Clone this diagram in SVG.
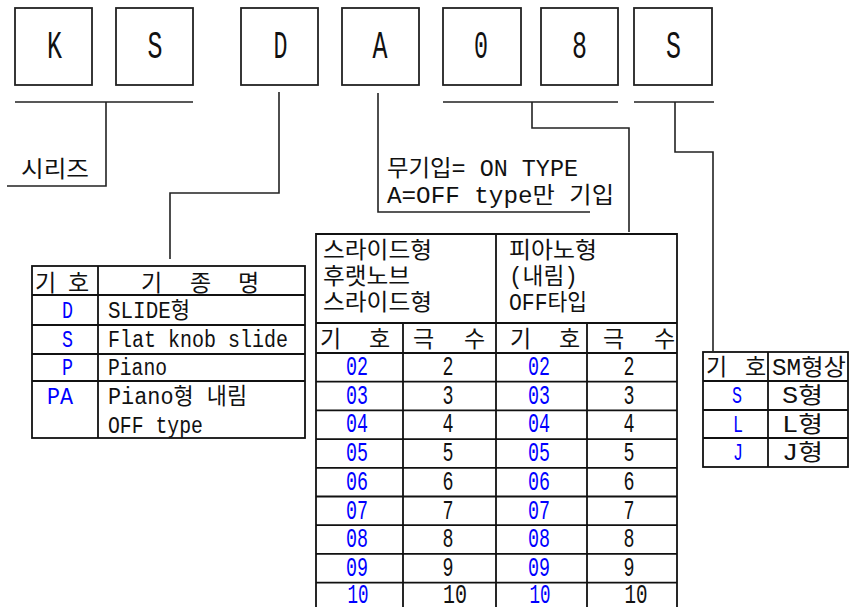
<svg xmlns="http://www.w3.org/2000/svg" width="850" height="607" viewBox="0 0 850 607">
<style>
.bx{fill:#fff;stroke:#222;stroke-width:1.8}
.ln{fill:none;stroke:#222;stroke-width:1.6}
.tb{fill:none;stroke:#111;stroke-width:1.8}
text{font-family:"Liberation Mono","Noto Sans CJK KR",monospace;font-size:23px;fill:#111}
text.big{font-size:38px;text-anchor:middle}
.d text{font-size:27px}
text.b{fill:#0000ff}
text.m{text-anchor:middle}
</style>
<rect width="850" height="607" fill="#fff"/>
<g id="box-K"><rect class="bx" x="15" y="8" width="77" height="77"/><text class="big" x="54.5" y="58" textLength="15" lengthAdjust="spacingAndGlyphs">K</text></g>
<g id="box-S1"><rect class="bx" x="116" y="8" width="77" height="77"/><text class="big" x="155" y="58" textLength="15" lengthAdjust="spacingAndGlyphs">S</text></g>
<g id="box-D"><rect class="bx" x="241" y="8" width="77" height="77"/><text class="big" x="280.5" y="58" textLength="14" lengthAdjust="spacingAndGlyphs">D</text></g>
<g id="box-A"><rect class="bx" x="342" y="8" width="77" height="77"/><text class="big" x="380" y="58" textLength="15" lengthAdjust="spacingAndGlyphs">A</text></g>
<g id="box-0"><rect class="bx" x="443" y="8" width="78" height="77"/><text class="big" x="481" y="58" textLength="14" lengthAdjust="spacingAndGlyphs">0</text></g>
<g id="box-8"><rect class="bx" x="541" y="8" width="77" height="77"/><text class="big" x="579.5" y="58" textLength="15" lengthAdjust="spacingAndGlyphs">8</text></g>
<g id="box-S2"><rect class="bx" x="634" y="8" width="78" height="77"/><text class="big" x="673.5" y="58" textLength="15" lengthAdjust="spacingAndGlyphs">S</text></g>

<g id="connectors">
<path class="ln" d="M15 102H193M106 102V186H7"/>
<path class="ln" d="M279 92V193H170V259"/>
<path class="ln" d="M378 93V212H590"/>
<path class="ln" d="M443 102H618M532 102V128H629V232"/>
<path class="ln" d="M634 102H714M675 102V152H713V351"/>
</g>

<g id="label-series"><text x="21" y="177" textLength="68" lengthAdjust="spacingAndGlyphs">시리즈</text></g>

<g id="note-type">
<text x="387" y="176" textLength="191" lengthAdjust="spacingAndGlyphs">무기입= ON TYPE</text>
<text x="387" y="203" textLength="227" lengthAdjust="spacingAndGlyphs">A=OFF type만 기입</text>
</g>

<g id="table-kind">
<rect class="tb" x="32" y="266" width="273" height="172"/>
<path class="tb" d="M98 266V438M32 295H305M32 325H305M32 354H305M32 381H305"/>
<text x="35" y="291">기</text><text x="68" y="291">호</text>
<text x="141" y="291">기</text><text x="190" y="291">종</text><text x="238" y="291">명</text>
<text class="b" x="62" y="318" textLength="11" lengthAdjust="spacingAndGlyphs">D</text>
<text x="108" y="318" textLength="82" lengthAdjust="spacingAndGlyphs">SLIDE형</text>
<text class="b" x="62" y="347" textLength="11" lengthAdjust="spacingAndGlyphs">S</text>
<text x="108" y="347" textLength="180" lengthAdjust="spacingAndGlyphs">Flat knob slide</text>
<text class="b" x="62" y="375" textLength="11" lengthAdjust="spacingAndGlyphs">P</text>
<text x="108" y="375" textLength="59" lengthAdjust="spacingAndGlyphs">Piano</text>
<text class="b" x="47" y="404" textLength="26" lengthAdjust="spacingAndGlyphs">PA</text>
<text x="108" y="404" textLength="139" lengthAdjust="spacingAndGlyphs">Piano형 내림</text>
<text x="108" y="433" textLength="95" lengthAdjust="spacingAndGlyphs">OFF type</text>
</g>

<g id="table-poles">
<path class="tb" d="M316 612V234H677V612M496 234V612M403 323V612M587 323V612M316 323H677M316 353H677M316 381.7H677M316 410.4H677M316 439.1H677M316 467.8H677M316 496.5H677M316 525.2H677M316 553.9H677M316 582.6H677"/>
<text x="323" y="258" textLength="109" lengthAdjust="spacingAndGlyphs">스라이드형</text>
<text x="323" y="284" textLength="87" lengthAdjust="spacingAndGlyphs">후랫노브</text>
<text x="323" y="310" textLength="109" lengthAdjust="spacingAndGlyphs">스라이드형</text>
<text x="509" y="258" textLength="88" lengthAdjust="spacingAndGlyphs">피아노형</text>
<text x="509" y="284" textLength="69" lengthAdjust="spacingAndGlyphs">(내림)</text>
<text x="509" y="310" textLength="78" lengthAdjust="spacingAndGlyphs">OFF타입</text>
<text x="320" y="347">기</text><text x="369" y="347">호</text><text x="413" y="347">극</text><text x="464" y="347">수</text>
<text x="510" y="347">기</text><text x="559" y="347">호</text><text x="603" y="347">극</text><text x="654" y="347">수</text>
<g class="d">
<text class="b m" x="357" y="375" textLength="22" lengthAdjust="spacingAndGlyphs">02</text>
<text class="m" x="448" y="375" textLength="11" lengthAdjust="spacingAndGlyphs">2</text>
<text class="b m" x="539" y="375" textLength="22" lengthAdjust="spacingAndGlyphs">02</text>
<text class="m" x="629" y="375" textLength="11" lengthAdjust="spacingAndGlyphs">2</text>
<text class="b m" x="357" y="403.7" textLength="22" lengthAdjust="spacingAndGlyphs">03</text>
<text class="m" x="448" y="403.7" textLength="11" lengthAdjust="spacingAndGlyphs">3</text>
<text class="b m" x="539" y="403.7" textLength="22" lengthAdjust="spacingAndGlyphs">03</text>
<text class="m" x="629" y="403.7" textLength="11" lengthAdjust="spacingAndGlyphs">3</text>
<text class="b m" x="357" y="432.4" textLength="22" lengthAdjust="spacingAndGlyphs">04</text>
<text class="m" x="448" y="432.4" textLength="11" lengthAdjust="spacingAndGlyphs">4</text>
<text class="b m" x="539" y="432.4" textLength="22" lengthAdjust="spacingAndGlyphs">04</text>
<text class="m" x="629" y="432.4" textLength="11" lengthAdjust="spacingAndGlyphs">4</text>
<text class="b m" x="357" y="461.1" textLength="22" lengthAdjust="spacingAndGlyphs">05</text>
<text class="m" x="448" y="461.1" textLength="11" lengthAdjust="spacingAndGlyphs">5</text>
<text class="b m" x="539" y="461.1" textLength="22" lengthAdjust="spacingAndGlyphs">05</text>
<text class="m" x="629" y="461.1" textLength="11" lengthAdjust="spacingAndGlyphs">5</text>
<text class="b m" x="357" y="489.8" textLength="22" lengthAdjust="spacingAndGlyphs">06</text>
<text class="m" x="448" y="489.8" textLength="11" lengthAdjust="spacingAndGlyphs">6</text>
<text class="b m" x="539" y="489.8" textLength="22" lengthAdjust="spacingAndGlyphs">06</text>
<text class="m" x="629" y="489.8" textLength="11" lengthAdjust="spacingAndGlyphs">6</text>
<text class="b m" x="357" y="518.5" textLength="22" lengthAdjust="spacingAndGlyphs">07</text>
<text class="m" x="448" y="518.5" textLength="11" lengthAdjust="spacingAndGlyphs">7</text>
<text class="b m" x="539" y="518.5" textLength="22" lengthAdjust="spacingAndGlyphs">07</text>
<text class="m" x="629" y="518.5" textLength="11" lengthAdjust="spacingAndGlyphs">7</text>
<text class="b m" x="357" y="547.2" textLength="22" lengthAdjust="spacingAndGlyphs">08</text>
<text class="m" x="448" y="547.2" textLength="11" lengthAdjust="spacingAndGlyphs">8</text>
<text class="b m" x="539" y="547.2" textLength="22" lengthAdjust="spacingAndGlyphs">08</text>
<text class="m" x="629" y="547.2" textLength="11" lengthAdjust="spacingAndGlyphs">8</text>
<text class="b m" x="357" y="575.9" textLength="22" lengthAdjust="spacingAndGlyphs">09</text>
<text class="m" x="448" y="575.9" textLength="11" lengthAdjust="spacingAndGlyphs">9</text>
<text class="b m" x="539" y="575.9" textLength="22" lengthAdjust="spacingAndGlyphs">09</text>
<text class="m" x="629" y="575.9" textLength="11" lengthAdjust="spacingAndGlyphs">9</text>
<text class="b m" x="358" y="603" textLength="21" lengthAdjust="spacingAndGlyphs">10</text>
<text class="m" x="455" y="603" textLength="24" lengthAdjust="spacingAndGlyphs">10</text>
<text class="b m" x="540" y="603" textLength="21" lengthAdjust="spacingAndGlyphs">10</text>
<text class="m" x="636" y="603" textLength="23" lengthAdjust="spacingAndGlyphs">10</text>
</g>
</g>

<g id="table-shape">
<rect class="tb" x="703" y="352" width="145" height="115"/>
<path class="tb" d="M768 352V467M703 381H848M703 410H848M703 438H848"/>
<text x="706" y="375">기</text><text x="745" y="375">호</text>
<text x="772" y="375" textLength="74" lengthAdjust="spacingAndGlyphs">SM형상</text>
<text class="b" x="732" y="403" textLength="10" lengthAdjust="spacingAndGlyphs">S</text>
<text x="782" y="403" textLength="41" lengthAdjust="spacingAndGlyphs">S형</text>
<text class="b" x="733" y="432" textLength="10" lengthAdjust="spacingAndGlyphs">L</text>
<text x="782" y="432" textLength="41" lengthAdjust="spacingAndGlyphs">L형</text>
<text class="b" x="733" y="460" textLength="10" lengthAdjust="spacingAndGlyphs">J</text>
<text x="782" y="460" textLength="41" lengthAdjust="spacingAndGlyphs">J형</text>
</g>
</svg>
